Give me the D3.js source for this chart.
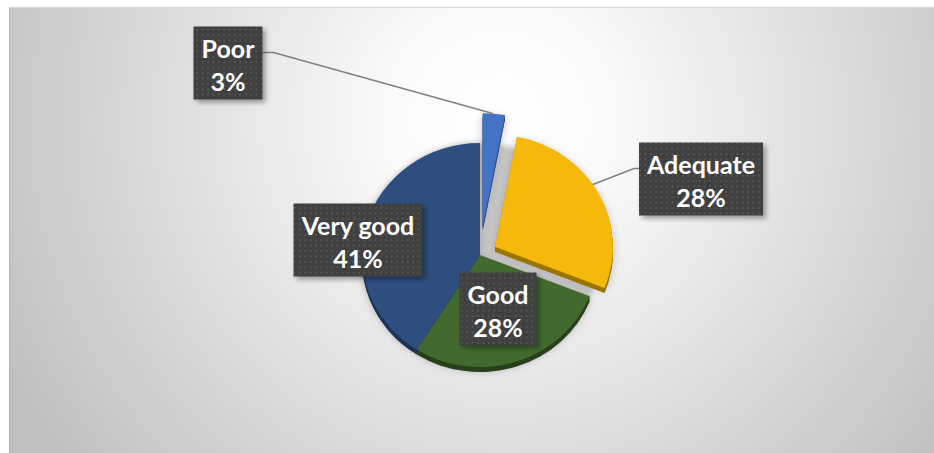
<!DOCTYPE html>
<html>
<head>
<meta charset="utf-8">
<script src="https://cdn.jsdelivr.net/npm/d3@7"></script>
<style>
  html, body { margin: 0; padding: 0; background: #fff; }
  svg { display: block; }
</style>
</head>
<body>
<svg id="chart" width="934" height="453"></svg>
<script>
// Survey rating shares, clockwise from 12 o'clock
const categories  = ["Poor", "Adequate", "Good", "Very good"];
const shares      = [3, 28, 28, 41];
const valueLabels = ["3%", "28%", "28%", "41%"];

// Face and rim colours of each slice
const faceColors = ["#4472c4", "#f4b90b", "#436a2e", "#2f4e80"];
const rimColors  = ["#2d4f8c", "#9b7500", "#27401b", "#1d3257"];

// Layout
const W = 934, H = 453;
const cx = 480, cy = 255;       // pie centre
const rx = 118, ry = 112;       // top face radii (tilted disc)
const depth = 5;                // rim thickness
const explode = { "Poor": 30, "Adequate": 17 };
// label box centres relative to the pie centre
const labelPos = {
  "Poor":      { dx: -252, dy: -192, leader: true },
  "Adequate":  { dx:  221, dy:  -76, leader: true },
  "Good":      { dx:   18, dy:   54 },
  "Very good": { dx: -122, dy:  -15 }
};

const svg = d3.select("#chart");
const defs = svg.append("defs");

// chart area background: soft radial gradient
const bg = defs.append("radialGradient").attr("id", "bgGrad")
  .attr("gradientUnits", "userSpaceOnUse")
  .attr("cx", 500).attr("cy", 120).attr("r", 560);
bg.append("stop").attr("offset", 0).attr("stop-color", "#ffffff");
bg.append("stop").attr("offset", 0.2).attr("stop-color", "#fafafa");
bg.append("stop").attr("offset", 1).attr("stop-color", "#bfbfbf");

// dotted texture for label boxes
const pat = defs.append("pattern").attr("id", "dots")
  .attr("patternUnits", "userSpaceOnUse").attr("width", 5.4).attr("height", 5.4);
pat.append("rect").attr("width", 5.4).attr("height", 5.4).attr("fill", "#404040");
pat.append("rect").attr("x", 2).attr("y", 2).attr("width", 1.6).attr("height", 1.6).attr("fill", "#5b5b5b");

const blurSoft = defs.append("filter").attr("id", "blurSoft")
  .attr("x", "-50%").attr("y", "-50%").attr("width", "200%").attr("height", "200%");
blurSoft.append("feGaussianBlur").attr("stdDeviation", 5);

const blurSmall = defs.append("filter").attr("id", "blurSmall")
  .attr("x", "-50%").attr("y", "-50%").attr("width", "200%").attr("height", "200%");
blurSmall.append("feGaussianBlur").attr("stdDeviation", 2.5);

svg.append("rect")
  .attr("x", 9).attr("y", 7).attr("width", W - 9).attr("height", H - 7)
  .attr("fill", "url(#bgGrad)");
svg.append("line").attr("x1", 9.5).attr("x2", 9.5).attr("y1", 7).attr("y2", H)
  .attr("stroke", "#b5b5b5");
svg.append("line").attr("x1", 9).attr("x2", W).attr("y1", 7.5).attr("y2", 7.5)
  .attr("stroke", "#d6d6d6");

// pie geometry
const pie = d3.pie().sort(null).value(d => d.value);
const slices = pie(categories.map((c, i) => ({
  name: c, value: shares[i], label: valueLabels[i], face: faceColors[i], rim: rimColors[i]
})));
const arc = d3.arc().innerRadius(0).outerRadius(rx);
const sy = ry / rx;

function offset(d) {
  const e = explode[d.data.name] || 0;
  const mid = (d.startAngle + d.endAngle) / 2;
  return [Math.sin(mid) * e, -Math.cos(mid) * e];
}
function outerPoint(d, frac) {
  const [ox, oy] = offset(d);
  const a = d.startAngle + (d.endAngle - d.startAngle) * frac;
  return [cx + ox + Math.sin(a) * rx, cy + oy - Math.cos(a) * ry];
}

const pieG = svg.append("g");

// shadow: undisplaced disc plus each slice, blurred
pieG.append("ellipse")
  .attr("cx", cx).attr("cy", cy + 2).attr("rx", rx).attr("ry", ry + 2)
  .attr("fill", "#c6c6c6").attr("filter", "url(#blurSmall)");
pieG.append("g").attr("filter", "url(#blurSoft)").attr("opacity", 0.55)
  .selectAll("path").data(slices).join("path")
  .attr("transform", d => { const [ox, oy] = offset(d); return `translate(${cx + ox},${cy + oy + 3}) scale(1,${sy})`; })
  .attr("d", arc).attr("fill", "#8a8a8a");

// rims: stacked copies below each face
for (let k = depth; k >= 1; k--) {
  pieG.append("g").selectAll("path").data(slices).join("path")
    .attr("transform", d => { const [ox, oy] = offset(d); return `translate(${cx + ox},${cy + oy + k}) scale(1,${sy})`; })
    .attr("d", arc).attr("fill", d => d.data.rim);
}

// faces
pieG.append("g").selectAll("path").data(slices).join("path")
  .attr("transform", d => { const [ox, oy] = offset(d); return `translate(${cx + ox},${cy + oy}) scale(1,${sy})`; })
  .attr("d", arc).attr("fill", d => d.data.face);

// labels
const labelG = svg.append("g");
const fontFamily = "Lato, 'Open Sans', sans-serif";

slices.forEach(d => {
  const pos = labelPos[d.data.name];
  const g = labelG.append("g");
  const t1 = g.append("text").text(d.data.name);
  const t2 = g.append("text").text(d.data.label);
  [t1, t2].forEach(t => t.attr("font-family", fontFamily).attr("font-weight", 700)
    .attr("font-size", 25).attr("fill", "#ffffff").attr("text-anchor", "middle"));
  const wText = Math.max(t1.node().getComputedTextLength(), t2.node().getComputedTextLength());
  const bw = Math.round(wText + 16), bh = 73;
  const bx = cx + pos.dx - bw / 2, by = cy + pos.dy - bh / 2;

  // leader line from the box to the slice
  if (pos.leader) {
    const tip = outerPoint(d, 0.45);
    const leftSide = tip[0] > bx + bw;
    const ex = leftSide ? bx + bw : bx;
    const ey = by + 26;
    const elbow = leftSide ? ex + 11 : ex - 5;
    labelG.insert("polyline", ":first-child")
      .attr("points", [[ex, ey], [elbow, ey], tip].map(p => p.join(",")).join(" "))
      .attr("fill", "none").attr("stroke", "#808080").attr("stroke-width", 1.6);
  }

  g.insert("rect", "text")
    .attr("x", bx + 3).attr("y", by + 3).attr("width", bw).attr("height", bh)
    .attr("fill", "#000").attr("opacity", 0.35).attr("filter", "url(#blurSmall)");
  g.insert("rect", "text")
    .attr("x", bx).attr("y", by).attr("width", bw).attr("height", bh)
    .attr("fill", "url(#dots)");
  t1.attr("x", bx + bw / 2).attr("y", by + 31.5);
  t2.attr("x", bx + bw / 2).attr("y", by + 64);
});
</script>
</body>
</html>
